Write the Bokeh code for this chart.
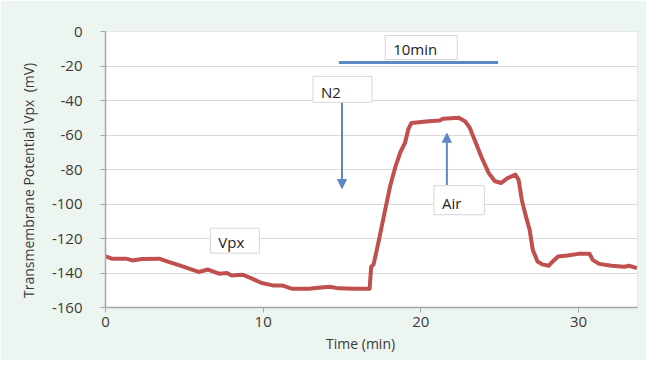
from bokeh.plotting import figure
from bokeh.models import Range1d, Label, Arrow, NormalHead, BoxAnnotation, FixedTicker
from bokeh.embed import file_html
from bokeh.resources import INLINE

# Data: time (min) and transmembrane potential Vpx (mV)
time_min = [0, 0.4, 1.3, 1.7, 2.3, 3.4, 4.0, 4.7, 5.3, 5.9, 6.5, 7.2, 7.7, 8.0, 8.7,
            9.3, 9.9, 10.6, 11.2, 11.8, 12.9, 13.5, 14.2, 14.8, 15.8, 16.75, 16.85,
            17.0, 17.3, 17.7, 18.05, 18.4, 18.7, 19.0, 19.2, 19.4, 20.5, 21.2, 21.4,
            22.4, 22.8, 23.1, 23.4, 23.9, 24.3, 24.7, 25.1, 25.5, 26.0, 26.2, 26.4,
            26.6, 26.9, 27.1, 27.4, 27.7, 28.1, 28.4, 28.7, 29.3, 30.0, 30.7, 30.9,
            31.3, 32.1, 32.9, 33.2, 33.7]
vpx_mv = [-130.3, -131.7, -131.7, -132.7, -131.9, -131.7, -133.6, -135.6, -137.5,
          -139.4, -138.0, -140.4, -140.0, -141.4, -141.0, -143.3, -145.8, -147.2,
          -147.2, -149.1, -149.1, -148.5, -148.0, -148.9, -149.1, -149.1, -136.5,
          -135.0, -122.7, -105.0, -89.7, -78.0, -70.0, -64.5, -56.8, -53.0, -52.0,
          -51.6, -50.6, -50.0, -52.0, -55.8, -62.6, -74.0, -82.0, -86.8, -87.8,
          -85.0, -83.0, -86.0, -97.5, -105.0, -115.0, -126.6, -133.3, -135.0,
          -135.8, -133.0, -130.4, -129.9, -128.9, -128.9, -132.4, -134.7, -135.8,
          -136.4, -135.8, -137.2]

x_ticks = [0, 10, 20, 30]
y_ticks = [-160, -140, -120, -100, -80, -60, -40, -20, 0]
y_tick_labels = {t: str(t) for t in y_ticks}

# annotation positions (data units)
ten_min_span = [14.8, 24.9]
ten_min_level = -18
n2_arrow = (15.0, -41, -91)
air_arrow = (21.65, -89, -59)

MINT = "#edf5f1"
RED = "#c0504d"
BLUE = "#5b89c4"
TXT = "#3a3a3a"
FONT = "Open Sans"
NB = "\u00a0"

p = figure(width=646, height=360, output_backend="svg", toolbar_location=None,
           x_range=Range1d(0, 33.74), y_range=Range1d(-160, 0),
           min_border_left=105, min_border_right=9, min_border_top=31,
           min_border_bottom=53)
p.border_fill_color = MINT
p.background_fill_color = "white"
p.outline_line_color = "#d0d0d0"

# white panel behind the chart
p.add_layout(BoxAnnotation(left=-5.96, right=34.47, top=8.7, bottom=-190,
                           fill_color="white", fill_alpha=1, line_color=None,
                           level="image"))

p.xgrid.visible = False
p.ygrid.grid_line_color = "#d9d9d9"
p.ygrid.ticker = FixedTicker(ticks=y_ticks)

for ax in (p.xaxis[0], p.yaxis[0]):
    ax.axis_line_color = "#a6a6a6"
    ax.axis_line_width = 1.5
    ax.major_tick_line_color = "#a6a6a6"
    ax.major_tick_in = 0
    ax.major_tick_out = 5
    ax.minor_tick_line_color = None
    ax.major_label_text_font = FONT
    ax.major_label_text_font_size = "15px"
    ax.major_label_text_color = TXT
    ax.axis_label_text_font = FONT
    ax.axis_label_text_font_style = "normal"
    ax.axis_label_text_color = TXT

p.xaxis.ticker = FixedTicker(ticks=x_ticks)
p.yaxis.ticker = FixedTicker(ticks=y_ticks)
p.yaxis.major_label_overrides = y_tick_labels
p.xaxis.major_label_standoff = 4
p.yaxis.major_label_standoff = 18

p.xaxis.axis_label = "Time (min)" + NB * 6
p.xaxis.axis_label_text_font_size = "14px"
p.xaxis.axis_label_standoff = 4
p.yaxis.axis_label = "Transmembrane Potential Vpx" + NB * 2 + "(mV)" + NB * 6
p.yaxis.axis_label_text_font_size = "14px"
p.yaxis.axis_label_standoff = 11

p.line(time_min, vpx_mv, line_color=RED, line_width=4, line_join="round")

# 10 min bar
p.line(ten_min_span, [ten_min_level, ten_min_level], line_color=BLUE, line_width=3)

# arrows
for (ax_x, y0, y1) in (n2_arrow, air_arrow):
    p.add_layout(Arrow(x_start=ax_x, y_start=y0, x_end=ax_x, y_end=y1,
                       line_color=BLUE, line_width=2,
                       end=NormalHead(size=9, fill_color=BLUE, line_color=BLUE)))

def box_label(x, y, text, pad):
    p.add_layout(Label(x=x, y=y, text=text, text_align="left", text_baseline="top",
                       text_font=FONT, text_font_size="15px", text_color="#222222",
                       background_fill_color="white", border_line_color="#d6d6d6",
                       border_line_width=1, padding=pad))

box_label(17.74, -2.3, "10min", dict(left=8, right=20, top=4, bottom=0))
box_label(13.16, -26, "N2", dict(left=8, right=31, top=6, bottom=0))
box_label(20.83, -89.4, "Air", dict(left=8, right=23, top=7, bottom=2))
box_label(6.65, -114, "Vpx", dict(left=8, right=15, top=4, bottom=1))

open("out.html", "w").write(file_html(p, INLINE))
